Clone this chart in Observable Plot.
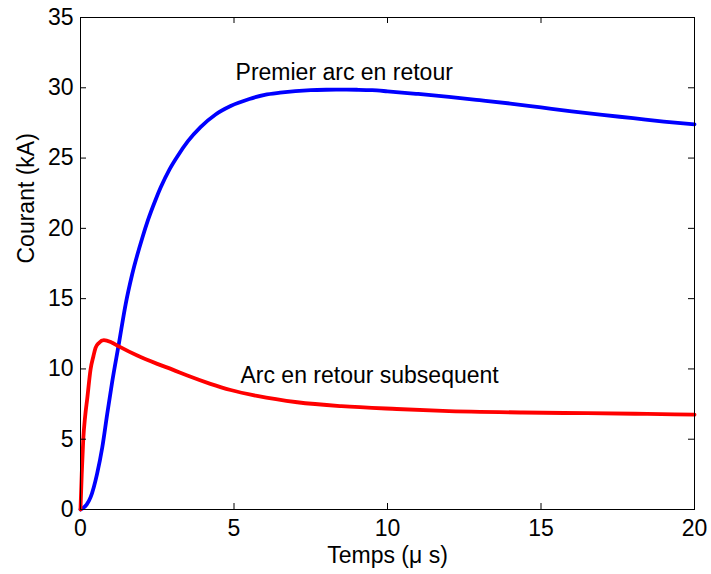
<!DOCTYPE html>
<html>
<head>
<meta charset="utf-8">
<script src="https://cdn.jsdelivr.net/npm/d3@7"></script>
<script src="https://cdn.jsdelivr.net/npm/@observablehq/plot@0.6"></script>
<style>
  html, body { margin: 0; padding: 0; background: #fff; }
  #chart { width: 711px; height: 574px; }
</style>
</head>
<body>
<div id="chart"></div>
<script>
// Premier arc en retour (blue)
const firstTime = [0, 0.2, 0.33, 0.54, 0.71, 0.87, 1.03, 1.25, 1.47, 1.68, 2.01, 2.2, 2.44, 2.61, 2.9, 3.15, 3.5, 3.91, 4.4, 4.89, 5.5, 6.0, 6.5, 7, 7.5, 8, 8.5, 9, 9.5, 10, 11, 12, 13, 14, 15, 16, 17, 18, 19, 20];
const firstCurrent = [0, 0.35, 0.88, 2.54, 4.43, 6.8, 9.05, 11.8, 14.6, 16.7, 19.3, 20.6, 22.0, 22.9, 24.2, 25.1, 26.2, 27.2, 28.1, 28.7, 29.2, 29.5, 29.65, 29.76, 29.83, 29.86, 29.87, 29.86, 29.83, 29.75, 29.56, 29.35, 29.12, 28.88, 28.6, 28.32, 28.07, 27.84, 27.6, 27.4];

// Arc en retour subsequent (red)
const subTime = [0, 0.04, 0.09, 0.15, 0.22, 0.33, 0.42, 0.49, 0.6, 0.76, 1.0, 1.25, 1.85, 2.5, 3.0, 3.48, 4.23, 4.89, 5.75, 7.06, 8.5, 10.3, 11.8, 14.4, 16.5, 18.46, 20];
const subCurrent = [0, 2.5, 5.0, 6.6, 7.9, 10.0, 10.9, 11.5, 11.85, 12.05, 11.9, 11.6, 10.95, 10.36, 9.95, 9.53, 8.94, 8.5, 8.08, 7.63, 7.35, 7.15, 7.02, 6.9, 6.85, 6.8, 6.75];

const xTicks = [0, 5, 10, 15, 20];
const yTicks = [0, 5, 10, 15, 20, 25, 30, 35];

const labelText = ["Premier arc en retour", "Arc en retour subsequent"];
const labelX = [5.05, 5.21];
const labelY = [30.52, 8.98];

const first = firstTime.map((t, i) => ({t, c: firstCurrent[i]}));
const sub = subTime.map((t, i) => ({t, c: subCurrent[i]}));
const labels = labelText.map((s, i) => ({s, x: labelX[i], y: labelY[i]}));

const W = 711, H = 574, mL = 80, mR = 17, mT = 17, mB = 65;
const fw = W - mL - mR, fh = H - mT - mB, tl = 6;
const font = "'Liberation Sans', Arial, sans-serif";

const chart = Plot.plot({
  width: W, height: H,
  marginLeft: mL, marginRight: mR, marginTop: mT, marginBottom: mB,
  x: {domain: [0, 20]},
  y: {domain: [0, 35]},
  style: {fontFamily: font, fontSize: "23px", color: "black", background: "white", overflow: "visible"},
  marks: [
    Plot.axisX(xTicks, {tickSize: 0, tickPadding: 10, fontSize: 23, label: null, fill: "black"}),
    Plot.axisY(yTicks, {tickSize: 0, tickPadding: 7, fontSize: 23, label: null, fill: "black"}),
    Plot.line(first, {x: "t", y: "c", stroke: "#0000ff", strokeWidth: 3.8, curve: "monotone-x"}),
    Plot.line(sub, {x: "t", y: "c", stroke: "#ff0000", strokeWidth: 3.8, curve: "monotone-x"}),
    Plot.tickX(xTicks, {x: d => d, insetTop: fh - tl, stroke: "black", strokeWidth: 1}),
    Plot.tickX(xTicks, {x: d => d, insetBottom: fh - tl, stroke: "black", strokeWidth: 1}),
    Plot.tickY(yTicks, {y: d => d, insetRight: fw - tl, stroke: "black", strokeWidth: 1}),
    Plot.tickY(yTicks, {y: d => d, insetLeft: fw - tl, stroke: "black", strokeWidth: 1}),
    Plot.frame({stroke: "black", strokeWidth: 1}),
    Plot.text(labels, {x: "x", y: "y", text: "s", textAnchor: "start", lineAnchor: "bottom", fontSize: 23, fill: "black"}),
    Plot.text(["Temps (\u03bc s)"], {frameAnchor: "bottom", text: d => d, dy: 53, lineAnchor: "bottom", fontSize: 23, fill: "black"}),
    Plot.text(["Courant (kA)"], {frameAnchor: "left", text: d => d, rotate: -90, dx: -47, lineAnchor: "bottom", fontSize: 23, fill: "black"})
  ]
});
document.getElementById("chart").appendChild(chart);
</script>
</body>
</html>
